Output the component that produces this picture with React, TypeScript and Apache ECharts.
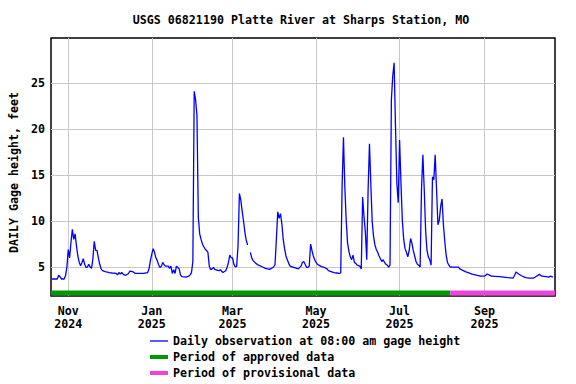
import React, { useEffect, useRef } from 'react';
import * as echarts from 'echarts';

const TITLE = 'USGS 06821190 Platte River at Sharps Station, MO';
const Y_AXIS_NAME = 'DAILY Gage height, feet';
const SERIES_NAMES = [
  'Daily observation at 08:00 am gage height',
  'Period of approved data',
  'Period of provisional data',
];
const MONTHS = ['Jan', 'Feb', 'Mar', 'Apr', 'May', 'Jun', 'Jul', 'Aug', 'Sep', 'Oct', 'Nov', 'Dec'];

// Day offsets relative to 2024-11-01 and the daily gage height (feet)
const dayOffsets = [
  -12, -8, -7, -6, -5, -3, -2, -1, 0, 1, 2, 3, 4, 5, 6, 7, 8, 9, 10, 11, 12, 13, 14, 15, 16, 17, 18, 19, 20,
  21, 22, 23, 24, 25, 27, 30, 32, 35, 36, 37, 38, 39, 40, 41, 42, 44, 45, 47, 48, 49, 55, 58, 59, 60, 61, 62,
  63, 64, 65, 66, 67, 68, 69, 70, 71, 73, 74, 75, 76, 77, 78, 79, 80, 81, 82, 83, 86, 88, 89, 90, 91, 92, 93,
  94, 95, 96, 97, 98, 99, 100, 101, 102, 103, 104, 105, 106, 107, 108, 110, 111, 113, 115, 116, 117, 118, 119,
  120, 121, 122, 123, 124, 125, 126, 127, 128, 129, 130, 131, 132, 133, 134, 135, 137, 139, 142, 144, 147,
  150, 151, 152, 153, 154, 155, 156, 157, 158, 159, 160, 161, 162, 164, 167, 168, 170, 171, 172, 173, 174,
  175, 176, 177, 178, 179, 180, 181, 182, 183, 185, 187, 189, 190, 192, 194, 196, 198, 199, 200, 201, 202,
  203, 204, 205, 206, 207, 208, 209, 210, 211, 213, 214, 215, 216, 217, 218, 219, 220, 221, 222, 223, 224,
  225, 226, 227, 228, 229, 230, 231, 232, 233, 234, 235, 236, 237, 238, 239, 240, 241, 242, 243, 244, 245,
  246, 247, 248, 249, 250, 251, 252, 253, 254, 255, 256, 257, 258, 259, 260, 261, 262, 263, 264, 265, 266,
  267, 268, 269, 270, 271, 272, 273, 274, 275, 276, 277, 278, 279, 285, 286, 290, 295, 301, 304, 306, 308,
  309, 315, 321, 325, 326, 327, 329, 331, 334, 337, 340, 342, 344, 346, 349, 351, 352, 354,
];
const gageHeight: (number | null)[] = [
  3.7, 3.7, 4.1, 3.95, 3.7, 3.7, 4.05, 5.0, 6.9, 6.0, 7.7, 9.1, 8.0, 8.6, 7.3, 6.2, 5.5, 5.15, 5.5, 5.9, 5.3,
  4.95, 5.0, 5.3, 5.0, 4.85, 5.9, 7.8, 6.8, 6.8, 6.0, 5.3, 4.8, 4.6, 4.5, 4.4, 4.35, 4.3, 4.15, 4.4, 4.25,
  4.4, 4.25, 4.15, 4.1, 4.3, 4.55, 4.5, 4.4, 4.3, 4.3, 4.4, 4.8, 5.7, 6.4, 7.0, 6.6, 6.0, 5.7, 5.25, 4.95,
  5.1, 5.5, 5.25, 5.1, 5.1, 4.85, 5.1, 4.3, 4.7, 4.3, 5.1, 4.95, 4.8, 4.15, 3.95, 3.9, 4.0, 4.15, 4.4, 5.6,
  24.1, 23.2, 21.5, 10.4, 8.6, 8.0, 7.5, 7.2, 6.95, 6.8, 6.6, 5.1, 4.7, 4.8, 4.95, 4.75, 4.7, 4.6, 4.7, 4.4,
  4.6, 4.95, 5.5, 6.3, 6.0, 6.0, 5.3, 5.0, 5.1, 7.3, 13.0, 12.3, 11.1, 10.0, 8.8, 7.9, 7.4, null, 6.6, 6.0,
  5.7, 5.4, 5.2, 5.0, 4.85, 4.75, 5.0, 5.25, 8.0, 11.0, 10.3, 10.8, 9.7, 8.0, 7.0, 6.2, 5.8, 5.4, 5.1, 5.0,
  4.85, 4.8, 5.1, 5.5, 5.6, 5.3, 5.0, 4.95, 5.1, 7.5, 6.8, 6.2, 5.8, 5.5, 5.3, 5.2, 5.05, 4.95, 4.8, 4.6,
  4.5, 4.4, 4.35, 4.3, 4.35, 13.7, 19.1, 13.7, 10.1, 7.6, 6.7, 6.1, 5.8, 6.3, 5.5, 5.4, 5.2, 5.1, 4.8, 12.6,
  10.5, 8.8, 5.8, 13.4, 18.4, 14.0, 9.9, 8.3, 7.4, 6.9, 6.6, 6.2, 5.9, 5.6, 5.8, 5.5, 5.3, 5.2, 5.0, 5.2,
  23.2, 25.8, 27.2, 20.3, 14.1, 12.0, 18.8, 14.1, 10.1, 8.0, 7.0, 6.6, 6.1, 6.8, 8.1, 7.6, 6.8, 6.2, 5.6,
  5.3, 5.2, 5.0, 13.5, 17.2, 13.4, 9.0, 6.8, 6.1, 5.8, 5.2, 14.8, 14.5, 17.2, 13.4, 9.6, 10.1, 11.6, 12.4,
  9.6, 7.8, 6.3, 5.5, 5.2, 5.0, 5.0, 4.8, 4.5, 4.24, 4.0, 4.0, 4.24, 4.1, 4.0, 3.95, 3.85, 3.8, 4.1, 4.45,
  4.24, 4.05, 3.85, 3.8, 3.8, 4.0, 4.2, 4.0, 3.95, 3.9, 4.0, 3.9,
];

// Axis / period settings (in days from 2024-11-01)
const xAxisStartDay = -12.6;
const xAxisEndDay = 355.5;
const approvedEndDay = 279; // 2025-08-07
const periodBarLevel = 2.17;
const yAxisMin = 1.85;
const yAxisMax = 29.9;
const yTicks = [5, 10, 15, 20, 25];
const xTickMonths: [number, number][] = [
  [2024, 10],
  [2025, 0],
  [2025, 2],
  [2025, 4],
  [2025, 6],
  [2025, 8],
];

const DAY_MS = 86400000;
const BASE = Date.UTC(2024, 10, 1);
const toTime = (d: number) => BASE + d * DAY_MS;

const FONT = "'DejaVu Sans Mono', 'Liberation Mono', monospace";
const textBase = { fontFamily: FONT, fontWeight: 'bold' as const, fontSize: 11.65, color: '#000' };

export default function App() {
  const ref = useRef<HTMLDivElement>(null);
  useEffect(() => {
    const chart = echarts.init(ref.current!, null, { renderer: 'svg' });
    const obs = dayOffsets.map((d, i) => [toTime(d), gageHeight[i] === null ? null : gageHeight[i]]);
    const xTicks = xTickMonths.map(([y, m]) => Date.UTC(y, m, 1));
    const tMin = toTime(xAxisStartDay);
    const tMax = toTime(xAxisEndDay);
    const tApp = toTime(approvedEndDay);

    chart.setOption({
      animation: false,
      backgroundColor: '#fff',
      title: {
        text: TITLE,
        left: 296,
        top: 9,
        textAlign: 'center',
        textStyle: { ...textBase },
      },
      grid: {
        left: 50,
        top: 38,
        width: 505,
        height: 258,
        show: true,
        borderColor: '#000',
        borderWidth: 1.5,
        backgroundColor: 'transparent',
        containLabel: false,
      },
      legend: {
        orient: 'vertical',
        left: 150,
        top: 335,
        padding: 0,
        itemWidth: 18,
        itemHeight: 12,
        itemGap: 4,
        selectedMode: false,
        textStyle: { ...textBase },
        data: [
          { name: SERIES_NAMES[0], icon: 'path://M0,0H18V1.3H0Z', itemStyle: { color: '#0000ff' } },
          { name: SERIES_NAMES[1], icon: 'path://M0,0H18V4H0Z', itemStyle: { color: '#009900' } },
          { name: SERIES_NAMES[2], icon: 'path://M0,0H18V4H0Z', itemStyle: { color: '#ee44dd' } },
        ],
      },
      xAxis: {
        type: 'value',
        min: tMin,
        max: tMax,
        axisLine: { show: false },
        axisTick: { show: false, customValues: xTicks },
        splitLine: { show: true, lineStyle: { color: '#c8c8c8', width: 1 } },
        axisLabel: {
          customValues: xTicks,
          margin: 8,
          lineHeight: 13,
          ...textBase,
          formatter: (v: number) => {
            const d = new Date(v);
            return MONTHS[d.getUTCMonth()] + '\n' + d.getUTCFullYear();
          },
        },
      },
      yAxis: {
        type: 'value',
        min: yAxisMin,
        max: yAxisMax,
        name: Y_AXIS_NAME,
        nameLocation: 'middle',
        nameGap: 31,
        nameTextStyle: { ...textBase, padding: [0, 11, 0, 0] },
        axisLine: { show: false },
        axisTick: { show: false, customValues: yTicks },
        splitLine: { show: true, lineStyle: { color: '#c8c8c8', width: 1 } },
        axisLabel: { customValues: yTicks, margin: 6, ...textBase },
      },
      series: [
        {
          name: SERIES_NAMES[0],
          type: 'line',
          data: obs,
          color: '#0000ff',
          symbol: 'none',
          showSymbol: false,
          connectNulls: false,
          lineStyle: { color: '#0000ff', width: 1.3 },
          itemStyle: { color: '#0000ff' },
          z: 4,
        },
        {
          name: SERIES_NAMES[1],
          type: 'line',
          data: [
            [tMin, periodBarLevel],
            [tApp, periodBarLevel],
          ],
          color: '#009900',
          symbol: 'none',
          lineStyle: { color: '#009900', width: 5 },
          itemStyle: { color: '#009900' },
          z: 3,
        },
        {
          name: SERIES_NAMES[2],
          type: 'line',
          data: [
            [tApp, periodBarLevel],
            [tMax, periodBarLevel],
          ],
          color: '#ee44dd',
          symbol: 'none',
          lineStyle: { color: '#ee44dd', width: 5 },
          itemStyle: { color: '#ee44dd' },
          z: 3,
        },
      ],
    });
    return () => chart.dispose();
  }, []);
  return <div ref={ref} style={{ position: 'fixed', left: 0, top: 0, width: 576, height: 384 }} />;
}
